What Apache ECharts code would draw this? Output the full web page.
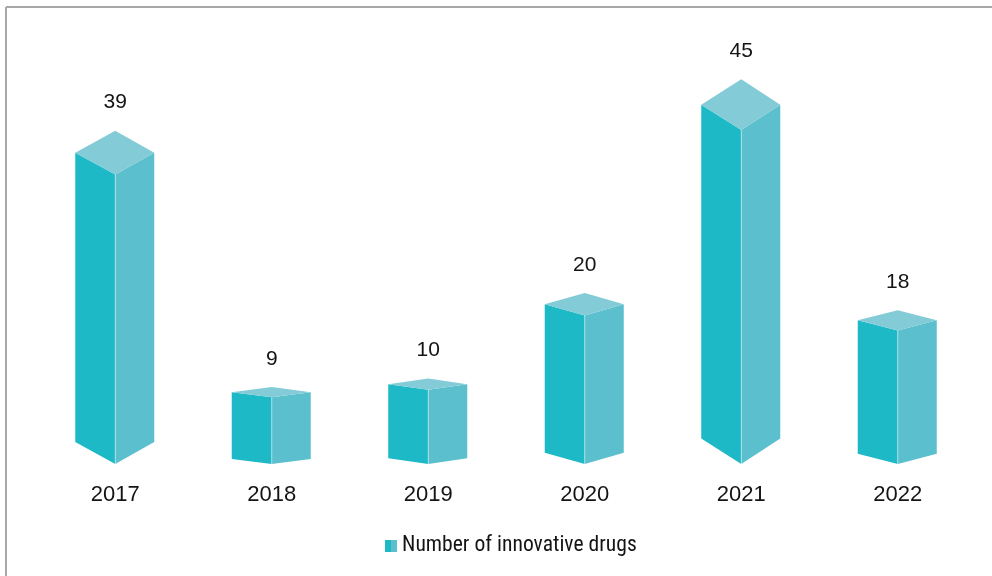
<!DOCTYPE html>
<html>
<head>
<meta charset="utf-8">
<script src="https://cdn.jsdelivr.net/npm/echarts@6/dist/echarts.min.js"></script>
<style>html,body{margin:0;padding:0;background:#fff;}#main{width:992px;height:576px;}</style>
</head>
<body>
<div id="main"></div>
<script>
const categories = ['2017', '2018', '2019', '2020', '2021', '2022'];
const drugCounts = [39, 9, 10, 20, 45, 18];
const seriesName = 'Number of innovative drugs';

const chart = echarts.init(document.getElementById('main'), null, {renderer: 'canvas'});

const leftColor = '#1db9c6';
const rightColor = '#5bbfcd';
const topColor = '#82cbd7';
const textColor = '#141414';

function renderItem(params, api) {
  const idx = api.value(0);
  const val = api.value(1);
  const top = api.coord([idx, val]);
  const base = api.coord([idx, 0]);
  const cx = top[0];
  const yT = top[1];
  const y0 = base[1];
  const h = y0 - yT;
  const d = 0.076 * h;
  const wl = 40, wr = 39;
  return {
    type: 'group',
    children: [
      {type: 'polygon', shape: {points: [[cx - wl, yT - d], [cx, yT], [cx, y0], [cx - wl, y0 - d]]},
       style: {fill: leftColor}},
      {type: 'polygon', shape: {points: [[cx, yT], [cx + wr, yT - d], [cx + wr, y0 - d], [cx, y0]]},
       style: {fill: rightColor}},
      {type: 'polygon', shape: {points: [[cx - wl, yT - d], [cx, yT - 2 * d], [cx + wr, yT - d], [cx, yT]]},
       style: {fill: topColor}},
      {type: 'line', shape: {x1: cx, y1: yT, x2: cx, y2: y0},
       style: {stroke: 'rgba(255,255,255,0.45)', lineWidth: 1}},
      {type: 'text', x: cx, y: yT - 2 * d - 28,
       style: {text: String(val), fill: textColor, font: '21px "Liberation Sans", Arial, sans-serif',
               align: 'center', verticalAlign: 'middle'}}
    ]
  };
}

chart.setOption({
  animation: false,
  backgroundColor: '#fff',
  grid: {left: 37, right: 16, top: 93, bottom: 112},
  xAxis: {
    type: 'category',
    data: categories,
    axisLine: {show: false},
    axisTick: {show: false},
    axisLabel: {margin: 20, color: textColor, fontSize: 22, fontFamily: '"Liberation Sans", Arial, sans-serif'}
  },
  yAxis: {
    type: 'value', min: 0, max: 50, show: false,
    splitLine: {show: false}
  },
  legend: {
    data: [seriesName],
    left: 385, top: 535,
    padding: 0,
    icon: 'rect',
    itemWidth: 12, itemHeight: 12,
    textStyle: {color: textColor, fontSize: 21.6, fontFamily: '"Liberation Sans Narrow", "Roboto Condensed", sans-serif'}
  },
  graphic: [
    {type: 'line', shape: {x1: 6, y1: 7, x2: 992, y2: 7}, style: {stroke: '#a8a8a8', lineWidth: 2}},
    {type: 'line', shape: {x1: 6, y1: 7, x2: 6, y2: 576}, style: {stroke: '#a8a8a8', lineWidth: 2}}
  ],
  series: [{
    name: seriesName,
    type: 'custom',
    renderItem: renderItem,
    encode: {x: 0, y: 1},
    itemStyle: {
      color: new echarts.graphic.LinearGradient(0, 0, 1, 0, [
        {offset: 0, color: leftColor}, {offset: 0.5, color: leftColor},
        {offset: 0.5, color: rightColor}, {offset: 1, color: rightColor}
      ])
    },
    data: categories.map((c, i) => [i, drugCounts[i]])
  }]
});
</script>
</body>
</html>
